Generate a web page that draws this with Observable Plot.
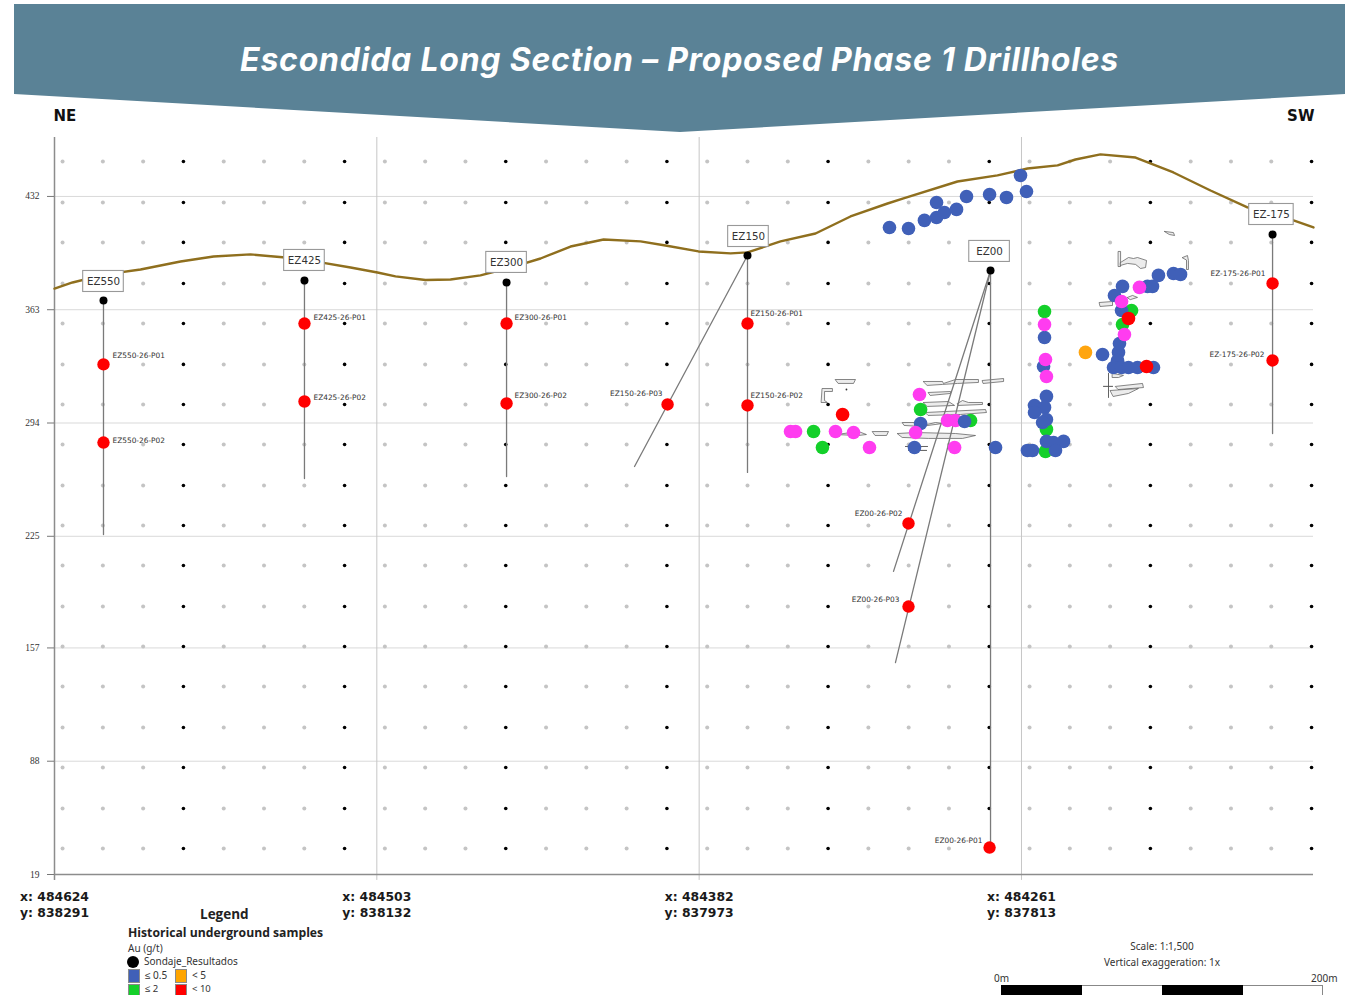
<!DOCTYPE html>
<html lang="en">
<head>
<meta charset="utf-8">
<title>Escondida Long Section</title>
<script src="https://cdn.jsdelivr.net/npm/d3@7"></script>
<script src="https://cdn.jsdelivr.net/npm/@observablehq/plot@0.6"></script>
<style>
  html, body { margin: 0; padding: 0; background: #fff; width: 1350px; height: 995px; overflow: hidden; }
  #page { position: relative; width: 1350px; height: 995px; overflow: hidden; font-family: "Noto Sans", sans-serif; }
  #chart { position: absolute; left: 0; top: 0; }
  #banner { position: absolute; left: 0; top: 0; width: 1350px; height: 135px; background: #5a8296;
    clip-path: polygon(14px 4px, 1345px 4px, 1345px 94px, 680px 132px, 14px 94px); }
  #banner h1 { position: absolute; left: 240px; top: 38px; margin: 0; white-space: nowrap; color: #fff;
    font: italic 700 32px/44px "Inter", sans-serif; }
  .t { position: absolute; white-space: nowrap; line-height: 1; color: #333; }
  .b { font-family: "Open Sans", sans-serif; font-weight: 700; color: #222; }
  .sw { position: absolute; width: 10px; height: 12px; border: 1px solid #8a8a8a; }
  .bar { position: absolute; top: 985px; height: 12px; box-sizing: border-box; }
</style>
</head>
<body>
<div id="page">
  <div id="chart"></div>
  <div id="banner"><h1 id="title">Escondida Long Section – Proposed Phase 1 Drillholes</h1></div>

  <div class="t b" style="left:200px;top:908px;font-size:13.5px">Legend</div>
  <div class="t b" style="left:128px;top:927px;font-size:12.2px">Historical underground samples</div>
  <div class="t" style="left:128px;top:943px;font-size:10px">Au (g/t)</div>
  <div style="position:absolute;left:127px;top:956px;width:12px;height:12px;border-radius:50%;background:#000"></div>
  <div class="t" style="left:144px;top:956px;font-size:10px">Sondaje_Resultados</div>
  <div class="sw" style="left:128px;top:969px;background:#4060b8"></div>
  <div class="t" style="left:145px;top:970px;font-size:10px">≤ 0.5</div>
  <div class="sw" style="left:175px;top:969px;background:#ffa500"></div>
  <div class="t" style="left:192px;top:970px;font-size:10px">&lt; 5</div>
  <div class="sw" style="left:128px;top:984px;background:#14d02a"></div>
  <div class="t" style="left:145px;top:983.5px;font-size:9.5px">≤ 2</div>
  <div class="sw" style="left:175px;top:984px;background:#ff0000"></div>
  <div class="t" style="left:192px;top:983.5px;font-size:9.5px">&lt; 10</div>

  <div class="t" style="left:1062px;width:200px;text-align:center;top:941px;font-size:10px">Scale: 1:1,500</div>
  <div class="t" style="left:1062px;width:200px;text-align:center;top:957px;font-size:10px">Vertical exaggeration: 1x</div>
  <div class="t" style="left:994px;top:973px;font-size:10px">0m</div>
  <div class="t" style="left:1311px;top:973px;font-size:10px">200m</div>
  <div class="bar" style="left:1001px;width:81px;background:#000"></div>
  <div class="bar" style="left:1082px;width:80px;border-top:1px solid #888"></div>
  <div class="bar" style="left:1162px;width:81px;background:#000"></div>
  <div class="bar" style="left:1243px;width:80px;border-top:1px solid #888;border-right:1px solid #888"></div>
</div>
<script>
// Section axes: distance along the section (m) and elevation (m)
const xTicks = [0, 200, 400, 600];
const eastings = [484624, 484503, 484382, 484261];
const northings = [838291, 838132, 837973, 837813];
const yTicks = [19, 88, 157, 225, 294, 363, 432];

// Reference dot grid
const gridGrey = [5,30,55,105,130,155,205,230,255,305,330,355,405,430,455,505,530,555,605,630,655,705,730,755];
const gridBlack = [80,180,280,380,480,580,680,780];
const gridRows = [34.8,59.2,84.2,108.5,133.5,157.9,182.2,207.2,231.6,255.9,280.9,305.3,329.7,354.6,379,404,428.3,453.3];

// Topographic surface [distance, elevation]
const surface = [[0,375.9],[11.2,379.6],[31.6,384.5],[53.4,387.5],[78.2,392.4],[98.7,395.4],[121.6,396.7],[143.3,394.8],[165.1,391.8],[183.7,388.7],[200.4,385.7],[211.6,383.3],[230.2,381.1],[245.7,381.4],[264.3,383.9],[282.9,388.7],[301.6,394.2],[320.2,401.5],[340.7,405.8],[363.6,404.6],[379.1,402.1],[399.6,398.5],[419.5,397.3],[430,397.9],[450.5,404.6],[472.2,409.4],[493.9,419.8],[516.9,427.7],[526.8,430.8],[560.3,441.1],[585.1,444.8],[603.7,449],[622.4,450.9],[633.5,454.5],[649,457.6],[670.8,455.7],[694.3,446.6],[717.3,435.6],[740.2,425.3],[757.6,421],[768.8,417.4],[781.2,413.1]];

// Historical workings outlines
const workings = [
  [[484.6,320.5],[497,320.5],[495.8,318.1],[486.5,318.1]],
  [[476.5,315],[482.7,315],[482.7,313.2],[477.8,313.2],[477.8,307.7],[479.6,306.5],[475.9,306.5]],
  [[507.6,288.8],[517.5,288.8],[516.3,286.4],[509.4,286.4]],
  [[485.2,287],[498.9,288.8],[503.8,287],[498.9,286.4]],
  [[539.2,319.3],[551,319.3],[551.6,318.1],[559.1,320.5],[573.3,320.5],[573.3,318.7],[560.3,318.1],[551,317.5],[541.7,316.9]],
  [[575.8,319.9],[588.9,321.1],[588.9,319.3],[576.4,318.1]],
  [[542.3,312.6],[556,313.2],[556,312],[543.6,310.8]],
  [[539.2,306.5],[554.7,307.1],[558.5,304.7],[541.7,304.1]],
  [[560.3,305.9],[563.4,307.7],[567.1,306.5],[575.8,306.5],[575.8,305.3],[560.9,304.7]],
  [[540.5,300.4],[577.7,302.2],[578.3,300.4],[562.2,299.2],[542.3,298.6]],
  [[526.2,294.3],[534.3,294.3],[538.6,292.5],[546.7,294.3],[551,293.7],[537.4,291.9],[527.4,292.5]],
  [[523.1,287.6],[534.3,288.2],[559.1,287.6],[571.5,286.4],[563.4,284.6],[542.3,284.6],[526.2,285.2]],
  [[528,279.7],[541.7,279.7]],
  [[529.9,277.3],[541.1,277.3]],
  [[688.8,410.7],[694.3,410],[695,408.2],[691.9,408.8]],
  [[660.2,398.5],[661.5,398.5],[661.5,389.3],[660.2,389.3]],
  [[661.5,391.8],[666.4,394.8],[669.5,394.2],[672,394.8],[677.6,393],[677,388.7],[673.9,388.1],[670.8,390.6],[665.8,391.2],[661.5,390]],
  [[699.9,394.8],[703,396],[703.6,393],[703.6,387.5],[702.4,387.5],[702.4,393]],
  [[648.4,367.4],[656.5,368],[656.5,365.6],[649,365]],
  [[665.8,370.5],[668.9,371.7],[672,370.5],[667.7,369.2]],
  [[656.5,324.2],[663.3,323],[660.2,321.7],[656.5,321.7]],
  [[658.4,316.3],[675.1,318.1],[675.7,315.6],[660.2,314.4]],
  [[655.2,313.8],[672.6,315],[666.4,312],[657.1,310.2]],
  [[654,324.2],[654,309.6]],
  [[650.9,316.3],[656.5,316.3]]
];

// Underground samples by Au class [distance, elevation]
const samplesGreen = [[471,288.8],[476.5,279.1],[537.4,302.2],[568.4,295.5],[615.5,290.1],[614.9,276.7],[614.3,361.9],[668.3,362.5],[662.7,354]];
const samplesBlue = [[518.1,413.1],[529.9,412.5],[539.8,417.4],[547.3,419.2],[552.2,422.2],[559.7,424.1],[547.3,428.3],[565.9,432],[580.2,433.2],[590.7,431.4],[599.4,444.8],[603.1,435],[537.4,293.7],[533.6,279.1],[583.9,279.1],[613.7,328.4],[615.5,310.2],[608.1,304.7],[614.3,303.5],[608.1,300.4],[615.5,296.1],[613.1,294.3],[615.5,282.8],[619.9,282.1],[626.1,282.8],[621.1,277.3],[603.7,277.3],[606.8,277.3],[614.3,346.1],[685,383.9],[694.3,385.1],[698.7,384.5],[662.7,377.2],[678.2,377.2],[681.3,377.2],[657.7,371.7],[662.1,362.5],[660.8,342.4],[660.2,337],[650.3,335.7],[659.6,332.1],[657.1,327.8],[662.1,327.8],[666.4,327.8],[672,327.8],[681.9,327.8]];
const samplesMagenta = [[456.7,288.8],[459.8,288.8],[484.6,288.8],[495.8,288.2],[505.7,279.1],[536.7,311.4],[534.3,288.2],[554.1,295.5],[559.1,295.5],[558.5,279.1],[614.3,354],[614.9,332.7],[615.5,322.3],[673.2,376.6],[662.1,368],[663.9,347.9]];
const samplesBlueTop = [[564.7,294.9]];
const samplesOrange = [[639.7,337]];
const samplesRed = [[489,299.2],[666.4,357.7],[677.6,328.4]];

// Proposed drillholes
const collars = [[30.4,368.6],[155.1,380.8],[280.5,379.6],[430,396],[580.8,386.9],[755.8,408.8]];
const traces = [
  [[30.4,368.6],[30.4,226.1]],
  [[155.1,380.8],[155.1,260.2]],
  [[280.5,379.6],[280.5,261.4]],
  [[430,396],[430,263.9]],
  [[430,396],[359.9,267.5]],
  [[580.8,386.9],[580.8,33.6]],
  [[580.8,386.9],[520.6,203.6]],
  [[580.8,386.9],[521.8,148.1]],
  [[755.8,408.8],[755.8,287.6]]
];
const targets = [[30.4,329.7],[30.4,282.1],[155.1,354.6],[155.1,307.1],[280.5,354.6],[280.5,305.9],[380.4,305.3],[430,354.6],[430,304.7],[529.9,232.8],[529.9,182.2],[580.2,35.4],[755.8,379],[755.8,332.1]];

// Section names and box centres
const holeNames = ["EZ550","EZ425","EZ300","EZ150","EZ00","EZ-175"];
const holeBoxX = [30.4,155.1,280.5,430.6,580.2,755.1];
const holeBoxY = [380.2,393,391.8,407.6,398.5,421];

// Target labels to the right / left of the hole
const labelsRight = ["EZ550-26-P01","EZ550-26-P02","EZ425-26-P01","EZ425-26-P02","EZ300-26-P01","EZ300-26-P02","EZ150-26-P01","EZ150-26-P02"];
const labelsRightX = [36,36,160.7,160.7,285.4,285.4,431.9,431.9];
const labelsRightY = [335.1,283.4,358.3,309.6,358.3,310.8,360.7,310.8];
const labelsLeft = ["EZ150-26-P03","EZ00-26-P01","EZ00-26-P02","EZ00-26-P03","EZ-175-26-P01","EZ-175-26-P02"];
const labelsLeftX = [377.3,575.8,526.2,524.3,751.4,750.8];
const labelsLeftY = [312,39.7,238.9,186.5,385.1,335.7];

const gridG = d3.cross(gridGrey, gridRows);
const gridB = d3.cross(gridBlack, gridRows);
const workingRows = workings.flatMap((w, i) => w.map(p => ({x: p[0], y: p[1], i})));
const traceRows = traces.flatMap((t, i) => t.map(p => ({x: p[0], y: p[1], i})));
const boxes = holeNames.map((n, i) => ({n, x: holeBoxX[i], y: holeBoxY[i], w: n === "EZ-175" ? 13.8 : 12.6}));
const lr = labelsRight.map((t, i) => ({t, x: labelsRightX[i], y: labelsRightY[i]}));
const ll = labelsLeft.map((t, i) => ({t, x: labelsLeftX[i], y: labelsLeftY[i]}));
const px = d => d[0], py = d => d[1];
const sampleDot = (rows, fill) => Plot.dot(rows, {x: px, y: py, r: 6.8, fill, stroke: "none"});

const chart = Plot.plot({
  width: 1350, height: 995,
  marginTop: 137, marginRight: 37, marginBottom: 121, marginLeft: 54,
  x: {domain: [0, 781.2]},
  y: {domain: [19, 467.9]},
  style: {fontFamily: '"DejaVu Sans", sans-serif', background: "#fff", color: "#333"},
  marks: [
    Plot.ruleY(yTicks.slice(1), {stroke: "#d9d9d9", strokeWidth: 1}),
    Plot.ruleX(xTicks.slice(1), {y1: 19 - 3.6, y2: 467.9, stroke: "#c6c6c6", strokeWidth: 1}),
    Plot.dot(gridG, {x: px, y: py, r: 2, fill: "#c4c4c4"}),
    Plot.dot(gridB, {x: px, y: py, r: 1.8, fill: "#000"}),
    Plot.ruleX([0], {y1: 19 - 3.6, y2: 467.9, stroke: "#8c8c8c", strokeWidth: 1.5}),
    Plot.ruleY([19], {stroke: "#8c8c8c", strokeWidth: 1.3}),
    Plot.axisY({ticks: yTicks, tickFormat: d => d, tickSize: 7, tickPadding: 8, label: null, fontSize: 9.5, fontFamily: '"Liberation Serif", serif', stroke: "#777", color: "#333"}),
    Plot.axisX({ticks: xTicks, tickSize: 0, tickPadding: 15, label: null, fontSize: 12.4, fontWeight: 700, lineHeight: 1.3, fill: "#1a1a1a",
      tickFormat: (d) => { const i = xTicks.indexOf(d); return `x: ${eastings[i]}\ny: ${northings[i]}`; }}),
    Plot.line(surface, {x: px, y: py, stroke: "#8f6f1e", strokeWidth: 2.4, curve: "linear"}),
    Plot.line(workingRows, {x: "x", y: "y", z: "i", curve: "linear-closed", fill: "#ececec", stroke: "#555", strokeWidth: 0.7}),
    Plot.dot([[491.4, 314.4]], {x: px, y: py, r: 0.9, fill: "#333"}),
    Plot.line(traceRows, {x: "x", y: "y", z: "i", stroke: "#7a7a7a", strokeWidth: 1.3}),
    sampleDot(samplesGreen, "#14d02a"),
    sampleDot(samplesBlue, "#4060b8"),
    sampleDot(samplesMagenta, "#ff3cf0"),
    sampleDot(samplesBlueTop, "#4060b8"),
    sampleDot(samplesOrange, "#ffa50f"),
    sampleDot(samplesRed, "#ff0000"),
    Plot.dot(collars, {x: px, y: py, r: 4, fill: "#000"}),
    Plot.dot(targets, {x: px, y: py, r: 6.2, fill: "#ff0000"}),
    Plot.rect(boxes, {x1: d => d.x - d.w, x2: d => d.x + d.w, y1: d => d.y - 6.4, y2: d => d.y + 6.4, fill: "#fff", stroke: "#999", strokeWidth: 1.1}),
    Plot.text(boxes, {x: "x", y: "y", text: "n", fontSize: 10.3, fill: "#333"}),
    Plot.text(lr, {x: "x", y: "y", text: "t", textAnchor: "start", fontSize: 7.4, fill: "#333"}),
    Plot.text(ll, {x: "x", y: "y", text: "t", textAnchor: "end", fontSize: 7.4, fill: "#333"}),
    Plot.text(["NE"], {x: [-0.6], y: [480.7], text: d => d, textAnchor: "start", fontSize: 15, fontWeight: 700, fill: "#111"}),
    Plot.text(["SW"], {x: [781.8], y: [480.7], text: d => d, textAnchor: "end", fontSize: 15, fontWeight: 700, fill: "#111"})
  ]
});
document.getElementById("chart").appendChild(chart);

// Fit the title to its width in the reference
const title = document.getElementById("title");
const excess = 879 - title.getBoundingClientRect().width;
title.style.letterSpacing = (excess / title.textContent.length) + "px";
</script>
</body>
</html>
